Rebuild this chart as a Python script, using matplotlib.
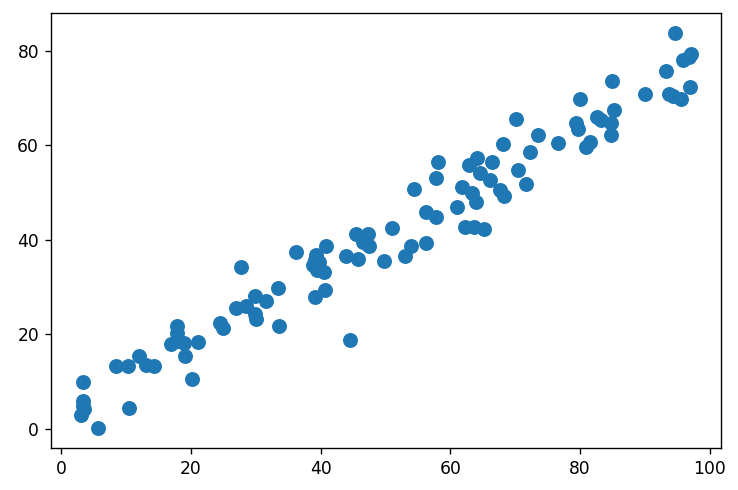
import matplotlib
matplotlib.use("Agg")
import matplotlib.pyplot as plt

# values
x_vals = [3.4, 3.4, 3.3, 3.5, 3.1, 5.6, 8.4, 10.3, 10.5, 12.0,
          13.0, 14.3, 17.9, 17.9, 16.9, 18.9, 19.1, 21.0, 20.1, 24.5,
          25.0, 26.9, 28.5, 27.7, 29.9, 31.6, 29.9, 30.0, 33.4, 33.6,
          44.5, 36.2, 40.8, 39.3, 38.8, 39.5, 40.5, 39.8, 39.1, 40.6,
          43.9, 45.7, 45.5, 47.3, 46.6, 47.4, 49.7, 51.0, 53.0, 54.0,
          56.3, 56.3, 57.8, 54.4, 57.8, 58.1, 61.0, 61.8, 62.2, 63.6,
          65.2, 63.3, 64.0, 62.9, 64.1, 64.5, 66.1, 66.4, 67.7, 68.3,
          68.2, 70.4, 71.7, 72.3, 73.5, 70.1, 76.6, 80.0, 79.4, 79.7,
          80.9, 81.5, 82.7, 83.3, 84.8, 85.3, 84.8, 84.9, 90.1, 93.2,
          93.8, 94.4, 95.6, 96.9, 94.7, 95.9, 96.8, 97.1, 17.8, 39.2]
y_vals = [9.8, 5.8, 4.8, 4.2, 3.0, 0.1, 13.2, 13.2, 4.4, 15.4,
          13.5, 13.2, 21.7, 20.2, 17.9, 18.1, 15.3, 18.3, 10.6, 22.4,
          21.3, 25.5, 25.9, 34.3, 28.1, 27.1, 24.3, 23.3, 29.8, 21.7,
          18.7, 37.4, 38.7, 36.8, 34.7, 33.7, 33.1, 35.4, 27.9, 29.4,
          36.5, 36.0, 41.3, 41.3, 39.6, 38.7, 35.6, 42.5, 36.5, 38.7,
          39.4, 45.9, 44.9, 50.8, 53.1, 56.4, 47.0, 51.2, 42.7, 42.8,
          42.3, 49.9, 48.1, 55.9, 57.3, 54.2, 52.6, 56.4, 50.6, 49.2,
          60.3, 54.7, 51.8, 58.5, 62.2, 65.6, 60.6, 69.8, 64.8, 63.4,
          59.7, 60.8, 66.0, 65.4, 64.7, 67.4, 62.2, 73.7, 70.8, 75.8,
          70.8, 70.4, 69.9, 72.4, 83.8, 78.1, 78.7, 79.3, 18.6, 35.8]

fig = plt.figure(figsize=(738 / 123, 490 / 123), dpi=123)
ax = fig.add_axes([0.0691, 0.0857, 0.9083, 0.8872])

ax.scatter(x_vals, y_vals, s=60, color='#1f77b4')

fig.savefig('out.png', dpi=123)
